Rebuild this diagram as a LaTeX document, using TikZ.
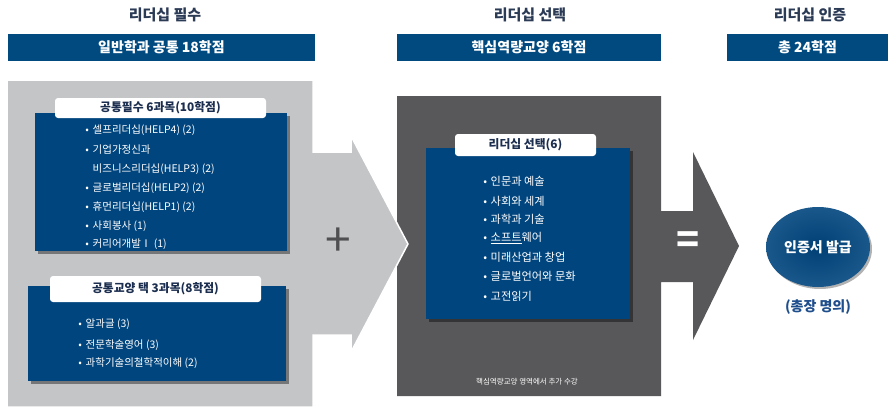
\documentclass[tikz,border=0pt]{standalone}
\usepackage{fontspec}
\setmainfont{Noto Sans CJK KR}
\usetikzlibrary{shadows,shapes.geometric}
\definecolor{bannerblue}{HTML}{004A80}
\definecolor{boxblue}{HTML}{00457E}
\definecolor{lightgr}{HTML}{C4C5C7}
\definecolor{darkgr}{HTML}{58585A}
\definecolor{headcol}{HTML}{2B3A55}
\definecolor{titlecol}{HTML}{1C2E4F}
\definecolor{certcol}{HTML}{1F4E8C}
\newcommand{\bul}{\makebox[11pt][c]{\char"2022}}
\begin{document}
\begin{tikzpicture}[x=1pt,y=-1pt,
  banner/.style={fill=bannerblue, draw=none, text=white, inner sep=0,
    font=\bfseries\fontsize{14}{16}\selectfont},
  header/.style={text=headcol, inner sep=0, font=\bfseries\fontsize{15}{17}\selectfont},
  bluebox/.style={fill=boxblue, draw=none, inner sep=0,
    drop shadow={shadow xshift=2.5pt, shadow yshift=-2.5pt, opacity=0.4, fill=black}},
  titlebox/.style={fill=white, draw=none, rounded corners=3pt, inner sep=0,
    text=titlecol, font=\bfseries\fontsize{11.8}{13}\selectfont},
  itemL/.style={text=white, anchor=west, inner sep=0, font=\fontsize{10.5}{12}\selectfont},
  itemM/.style={text=white, anchor=west, inner sep=0, font=\fontsize{11.2}{13}\selectfont},
  opsym/.style={inner sep=0, font=\fontsize{46}{46}\selectfont}
]
\useasboundingbox (0,0) rectangle (889,418);
\fill[white] (0,0) rectangle (889,418);

% headers
\node[header] (h1) at (165,15) {리더십 필수};
\node[header] (h2) at (530,15) {리더십 선택};
\node[header] (h3) at (810,15) {리더십 인증};

% banners
\node[banner, minimum width=307pt, minimum height=27pt] (b1) at (161.5,47.5) {일반학과 공통 18학점};
\node[banner, minimum width=264pt, minimum height=27pt] (b2) at (529,47.5) {핵심역량교양 6학점};
\node[banner, minimum width=161pt, minimum height=27pt] (b3) at (807.5,47.5) {총 24학점};

% dark gray block with arrow
\fill[darkgr] (397,96) -- (661,96) -- (661,211) -- (693,211) -- (693,152) -- (739,246)
  -- (693,340) -- (693,282) -- (661,282) -- (661,396) -- (397,396) -- cycle;

% light gray block with arrow
\filldraw[fill=lightgr, draw=white, line width=1.5pt] (7,80) -- (313,80) -- (313,152) -- (351,152)
  -- (351,136) -- (408,244) -- (351,352) -- (351,335) -- (313,335) -- (313,407) -- (7,407) -- cycle;

\node[opsym, text=darkgr!90!black] (plus) at (338,242) {+};
\node[opsym, text=white, font=\bfseries\fontsize{38}{38}\selectfont] (eq) at (688,243) {=};

% box 1
\node[bluebox, minimum width=252pt, minimum height=138pt] (box1) at (161,182) {};
\node[titlebox, minimum width=211pt, minimum height=20pt] (t1) at (160.5,108) {공통필수 6과목(10학점)};
\node[itemL] (i11) at (81.5,130) {\bul 셀프리더십(HELP4) (2)};
\node[itemL] (i12) at (81.5,150) {\bul 기업가정신과};
\node[itemL] (i13) at (92.5,169) {비즈니스리더십(HELP3) (2)};
\node[itemL] (i14) at (81.5,188) {\bul 글로벌리더십(HELP2) (2)};
\node[itemL] (i15) at (81.5,207) {\bul 휴먼리더십(HELP1) (2)};
\node[itemL] (i16) at (81.5,226) {\bul 사회봉사 (1)};
\node[itemL] (i17) at (81.5,244) {\bul 커리어개발Ⅰ (1)};

% box 2
\node[bluebox, minimum width=258pt, minimum height=95pt] (box2) at (157,333.5) {};
\node[titlebox, minimum width=211pt, minimum height=26pt] (t2) at (155.5,289) {공통교양 택 3과목(8학점)};
\node[itemL] (i21) at (74.5,324) {\bul 알과글 (3)};
\node[itemL] (i22) at (74.5,345) {\bul 전문학술영어 (3)};
\node[itemL] (i23) at (74.5,363) {\bul 과학기술의철학적이해 (2)};

% box 3
\node[bluebox, minimum width=204pt, minimum height=171pt] (box3) at (528,233.5) {};
\node[titlebox, minimum width=141pt, minimum height=22pt] (t3) at (525.5,145) {리더십 선택(6)};
\node[itemM] (i31) at (479.5,181) {\bul 인문과 예술};
\node[itemM] (i32) at (479.5,201) {\bul 사회와 세계};
\node[itemM] (i33) at (479.5,219) {\bul 과학과 기술};
\node[itemM] (i34) at (479.5,238) {\bul \underline{소프트}웨어};
\node[itemM] (i35) at (479.5,257) {\bul 미래산업과 창업};
\node[itemM] (i36) at (479.5,276) {\bul 글로벌언어와 문화};
\node[itemM] (i37) at (479.5,296) {\bul 고전읽기};
\node[text=white, inner sep=0, font=\fontsize{7.5}{8}\selectfont] (note) at (527,382) {핵심역량교양 영역에서 추가 수강};

% certificate
\node[ellipse, minimum width=104pt, minimum height=80pt, inner sep=0, draw=none,
  shading=radial, inner color=boxblue!92!black, outer color=boxblue!90!white,
  drop shadow={shadow xshift=2pt, shadow yshift=-2pt, opacity=0.3, fill=black},
  text=white, font=\bfseries\fontsize{14}{16}\selectfont] (cert) at (818,247) {인증서 발급};
\node[text=certcol, inner sep=0, font=\bfseries\fontsize{14}{16}\selectfont] (pres) at (818,307) {(총장 명의)};
\end{tikzpicture}
\end{document}
